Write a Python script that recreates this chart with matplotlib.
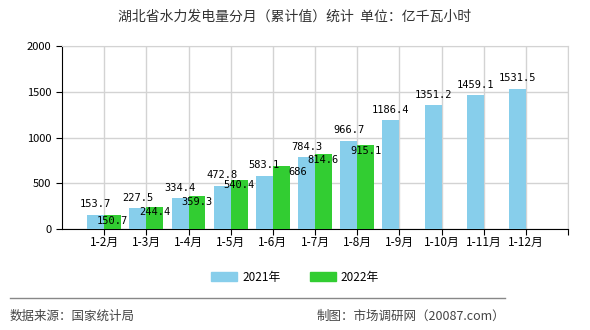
import numpy as np
import matplotlib
matplotlib.use('Agg')
import matplotlib.pyplot as plt
from matplotlib.patches import Patch

plt.rcParams['font.family'] = ['Noto Sans CJK SC', 'DejaVu Sans']

# chart data
months = ['1-2月', '1-3月', '1-4月', '1-5月', '1-6月', '1-7月', '1-8月',
          '1-9月', '1-10月', '1-11月', '1-12月']
values_2021 = [153.7, 227.5, 334.4, 472.8, 583.1, 784.3, 966.7,
               1186.4, 1351.2, 1459.1, 1531.5]
values_2022 = [150.7, 244.4, 359.3, 540.4, 686, 814.6, 915.1]
labels_2022 = ['150.7', '244.4', '359.3', '540.4', '686', '814.6', '915.1']
series_names = ['2021年', '2022年']

blue = '#87CEEB'
green = '#32CD32'

fig = plt.figure(figsize=(5.9, 3.3), dpi=100)
ax = fig.add_axes([62 / 590, 1 - 229 / 330, (568 - 62) / 590, (229 - 46) / 330])

x = np.arange(1, len(months) + 1)
w = 0.4
ax.bar(x - w / 2, values_2021, width=w, color=blue, zorder=3)
x2 = x[:len(values_2022)]
ax.bar(x2 + w / 2, values_2022, width=w, color=green, zorder=3)

num_font = dict(family='DejaVu Sans Mono', fontsize=7.5, color='black')
for xi, v in zip(x, values_2021):
    ax.text(xi - w / 2, v + 60, f'{v:.1f}', ha='center', va='bottom', zorder=5, **num_font)
for xi, v, lab in zip(x2, values_2022, labels_2022):
    # integer labels sit a bit to the right, as in the original
    dx = 12 if '.' not in lab else 0
    ax.annotate(lab, (xi + w / 2, v), xytext=(dx, -4), textcoords='offset points',
                ha='center', va='center', zorder=5, **num_font)

ax.set_xlim(0, 12)
ax.set_ylim(0, 2000)
ax.set_yticks(np.arange(0, 2001, 500))
ax.set_xticks(np.arange(1, 13))
ax.set_xticklabels(months + [''], fontsize=8.5)
ax.tick_params(axis='y', labelsize=8, length=4, color='black')
ax.tick_params(axis='x', length=4, color='black', pad=1)
ax.grid(True, color='#d3d3d3', linewidth=1, zorder=0)
for s in ['top', 'right']:
    ax.spines[s].set_color('#d3d3d3')
ax.spines['left'].set_color('black')
ax.spines['bottom'].set_color('black')

fig.text(0.5, 1 - 17 / 330, '湖北省水力发电量分月（累计值）统计  单位：亿千瓦小时',
         ha='center', va='center', fontsize=10, color='#333333')

handles = [Patch(color=blue), Patch(color=green)]
fig.legend(handles, series_names, loc='center', bbox_to_anchor=(0.5, 1 - 277 / 330),
           ncol=2, frameon=False, fontsize=8.5, handlelength=2.2, handleheight=0.8,
           columnspacing=2.5, handletextpad=0.4)

fig.add_artist(plt.Line2D([10 / 590, 505 / 590], [1 - 298 / 330, 1 - 298 / 330],
                          color='#888888', linewidth=1))
fig.text(10 / 590, 1 - 316 / 330, '数据来源：国家统计局', ha='left', va='center',
         fontsize=9, color='#444444')
fig.text(505 / 590, 1 - 316 / 330, '制图：市场调研网（20087.com）', ha='right', va='center',
         fontsize=9, color='#444444')

fig.savefig('out.png', dpi=100)
